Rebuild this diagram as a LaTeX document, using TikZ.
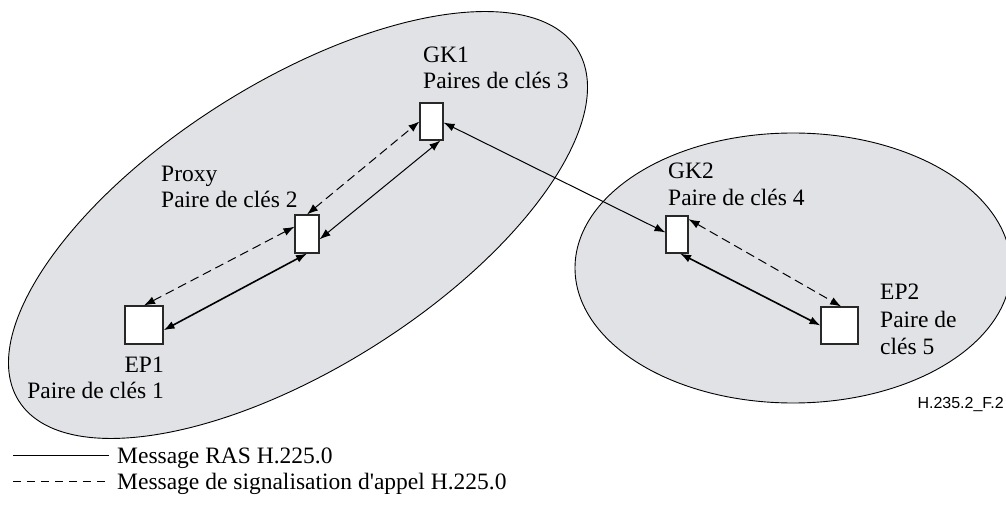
\documentclass[tikz,border=0pt]{standalone}
\usepackage{fontspec}
\setmainfont{Liberation Serif}
% same face without the TeX quote mapping, for a straight apostrophe
\newfontfamily\plainserif{Liberation Serif}
\newfontfamily\labelsans{Liberation Sans}
\usetikzlibrary{arrows.meta}
\definecolor{zonefill}{RGB}{225,226,229}
\definecolor{boxline}{RGB}{40,40,40}
\begin{document}
\begin{tikzpicture}[x=1pt,y=-1pt,
  zone/.style={draw=black,line width=0.9pt,fill=zonefill},
  unit/.style={draw=boxline,line width=1.1pt,fill=white,inner sep=0pt,
               minimum width=#1,minimum height=37pt},
  lbl/.style={anchor=base west,inner sep=0pt,font=\fontsize{23.5}{26.5}\selectfont},
  ras/.style={{Latex[length=11pt,width=8pt]}-{Latex[length=11pt,width=8pt]},line width=#1},
  ras/.default=1pt,
  sig/.style={{Latex[length=11pt,width=8pt]}-{Latex[length=11pt,width=8pt]},
              line width=1pt,dash pattern=on 9pt off 5pt}]
\useasboundingbox (0,0) rectangle (1006,518);

% the two zones
\draw[zone,rotate around={32.2:(298,225)}] (298,225) ellipse [x radius=330pt,y radius=143pt];
\draw[zone] (793,268) ellipse [x radius=218pt,y radius=135pt];

% entities
\node[unit=23pt] (gk1)   at (431.5,121.5) {};
\node[unit=24pt,minimum height=38pt] (proxy) at (307,234) {};
\node[unit=38pt,minimum height=38pt] (ep1)   at (144,325) {};
\node[unit=22pt] (gk2)   at (677,234.5) {};
\node[unit=37pt] (ep2)   at (839.5,325.5) {};

% labels
\node[lbl] (gk1t)  at (423,63) {GK1};
\node[lbl] (gk1k)  at (423,89) {Paires de clés 3};
\node[lbl] (prxt)  at (161,182) {Proxy};
\node[lbl] (prxk)  at (161,208) {Paire de clés 2};
\node[lbl,anchor=base east] (ep1t) at (164,372) {EP1};
\node[lbl,anchor=base east] (ep1k) at (164,398) {Paire de clés 1};
\node[lbl] (gk2t)  at (668,179) {GK2};
\node[lbl] (gk2k)  at (668,206) {Paire de clés 4};
\node[lbl] (ep2t)  at (880,300) {EP2};
\node[lbl] (ep2k)  at (880,327) {Paire de};
\node[lbl] (ep2k2) at (880,354) {clés 5};
\node[anchor=base east,inner sep=0pt,font=\labelsans\fontsize{16}{18}\selectfont] (fig) at (1004,408) {H.235.2\_F.2};

% messages
\draw[sig] (ep1.north) -- (proxy.150);
\draw[ras=1.6pt] (ep1.-15) -- (proxy.south);
\draw[sig] (proxy.north) -- (gk1.west);
\draw[ras] (proxy.-23) -- (gk1.-65);
\draw[ras] (gk1.-5) -- (gk2.170);
\draw[sig] (gk2.53) -- (ep2.85);
\draw[ras=1.6pt] (gk2.-81) -- (ep2.west);

% legend
\coordinate (l1a) at (13,455);
\coordinate (l1b) at (109,455);
\coordinate (l2a) at (13,481);
\coordinate (l2b) at (109,481);
\draw[line width=1pt] (l1a) -- (l1b);
\draw[line width=1pt,dash pattern=on 8pt off 6pt] (l2a) -- (l2b);
\node[lbl] (leg1) at (117,463) {Message RAS H.225.0};
\node[lbl] (leg2) at (117,489) {Message de signalisation d{\plainserif'}appel H.225.0};
\end{tikzpicture}
\end{document}
